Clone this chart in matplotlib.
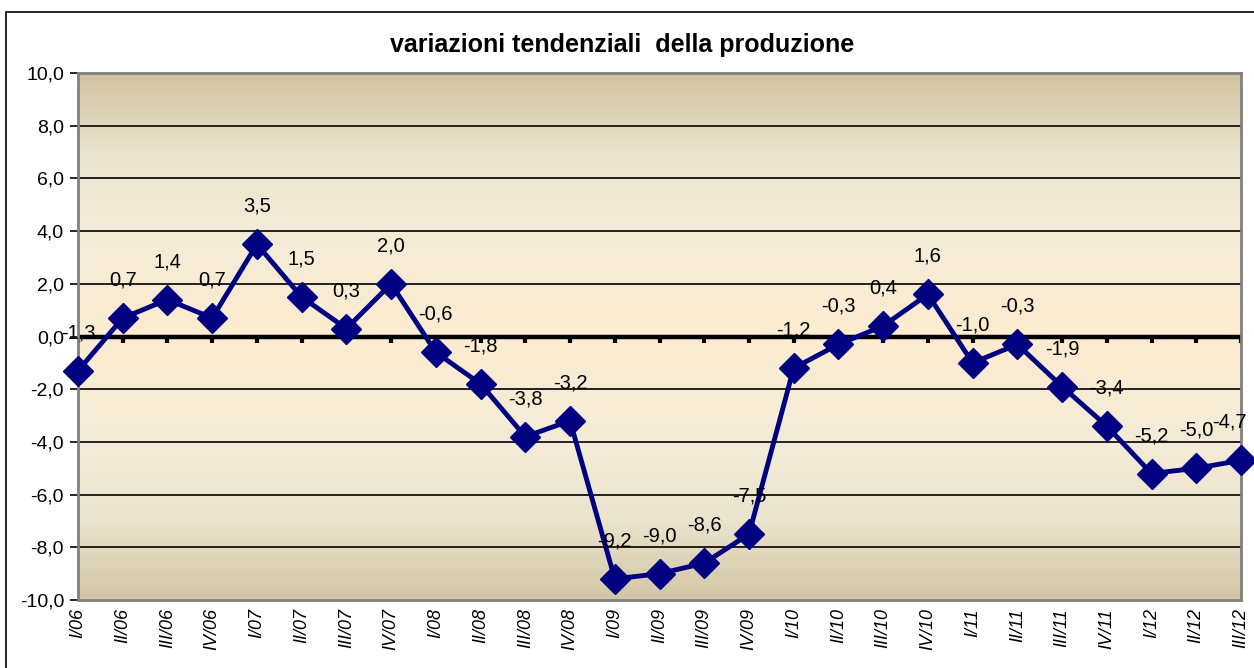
import numpy as np
import matplotlib
matplotlib.use("Agg")
import matplotlib.pyplot as plt
from matplotlib.colors import LinearSegmentedColormap
from matplotlib.patches import Rectangle

plt.rcParams['font.family'] = ['Liberation Sans', 'DejaVu Sans']

# quarters and year-on-year production change
quarters = ["I/06", "II/06", "III/06", "IV/06",
            "I/07", "II/07", "III/07", "IV/07",
            "I/08", "II/08", "III/08", "IV/08",
            "I/09", "II/09", "III/09", "IV/09",
            "I/10", "II/10", "III/10", "IV/10",
            "I/11", "II/11", "III/11", "IV/11",
            "I/12", "II/12", "III/12"]
values = [-1.3, 0.7, 1.4, 0.7,
          3.5, 1.5, 0.3, 2.0,
          -0.6, -1.8, -3.8, -3.2,
          -9.2, -9.0, -8.6, -7.5,
          -1.2, -0.3, 0.4, 1.6,
          -1.0, -0.3, -1.9, -3.4,
          -5.2, -5.0, -4.7]
y_ticks = [-10, -8, -6, -4, -2, 0, 2, 4, 6, 8, 10]

W, H = 1254, 668
fig = plt.figure(figsize=(W / 100, H / 100), dpi=100)
fig.patch.set_facecolor("white")

# outer frame of the chart object
fig.patches.append(Rectangle((6 / W, -0.1), 1.2, (H - 12) / H + 0.1,
                             transform=fig.transFigure, fill=False,
                             edgecolor="black", linewidth=1.2))

left, right, top, bottom = 78, 1241, 73, 600
ax = fig.add_axes([left / W, 1 - bottom / H, (right - left) / W, (bottom - top) / H])

x = np.arange(len(quarters))
ax.set_xlim(0, len(quarters) - 1)
ax.set_ylim(-10, 10)

# gradient background (tan at the edges, cream around zero)
cmap = LinearSegmentedColormap.from_list("bg", [
    (0.0, "#D2C6A4"), (0.15, "#EAE3CD"), (0.3, "#F4ECD8"),
    (0.5, "#FCEBD0"), (0.7, "#F4ECD8"), (0.85, "#EAE3CD"), (1.0, "#D0C3A1")])
grad = np.linspace(0, 1, 256).reshape(-1, 1)
ax.imshow(grad, cmap=cmap, aspect="auto", extent=[0, len(quarters) - 1, -10, 10],
          origin="lower", zorder=0)

for yv in y_ticks:
    if yv in (-10, 10, 0):
        continue
    ax.axhline(yv, color="black", linewidth=1.2, zorder=1)
ax.axhline(0, color="black", linewidth=3.2, zorder=2)
ax.vlines(x, -0.25, 0, color="black", linewidth=3, zorder=2)

ax.plot(x, values, color="#000080", linewidth=3.5, marker="D", markersize=15,
        markerfacecolor="#000080", markeredgecolor="#000080", zorder=4, clip_on=False)

for i, (xi, v) in enumerate(zip(x, values)):
    dx = -12 if i == len(values) - 1 else 0
    ax.annotate(f"{v:.1f}".replace(".", ","), (xi, v), xytext=(dx, 38),
                textcoords="offset pixels", ha="center", va="center",
                fontsize=14.5, color="black", zorder=5, annotation_clip=False)

ax.set_yticks(y_ticks)
ax.set_yticklabels([f"{t:.1f}".replace(".", ",") for t in y_ticks], fontsize=14)
ax.tick_params(axis="y", direction="out", length=6, width=1.2, color="black", pad=4)

ax.set_xticks(x)
ax.set_xticklabels(quarters, rotation=90, fontsize=13, fontstyle="italic", va="top")
ax.tick_params(axis="x", length=0, pad=6)

for side in ["top", "right", "bottom", "left"]:
    ax.spines[side].set_color("#808080")
    ax.spines[side].set_linewidth(2)

fig.text(622 / W, 1 - 45 / H, "variazioni tendenziali  della produzione",
         ha="center", va="center", fontsize=18, fontweight="bold")

fig.savefig("out.png", dpi=100)
